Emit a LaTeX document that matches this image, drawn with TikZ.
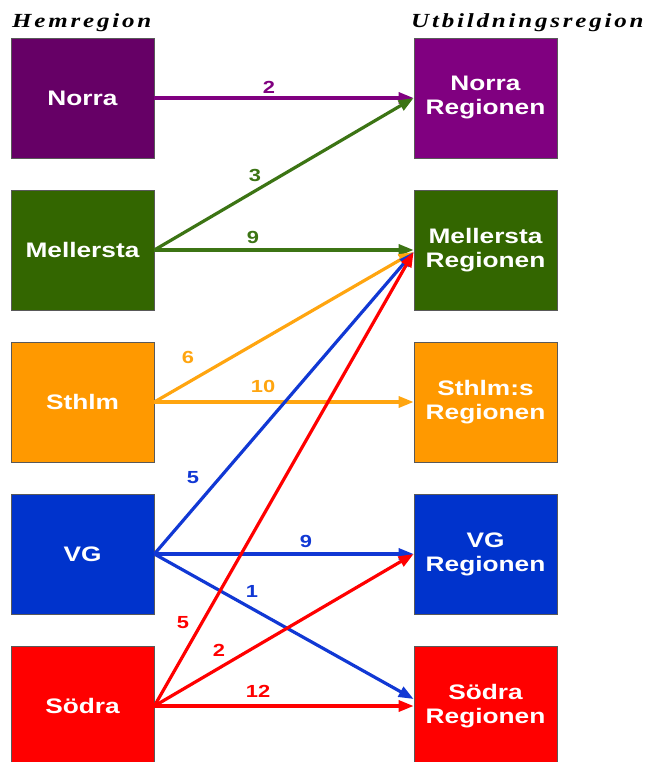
\documentclass[tikz,border=0pt]{standalone}
\usepackage{fontspec}
\setmainfont{Liberation Serif}
\newfontfamily\boxfont[FakeStretch=1.25]{Liberation Sans}
\newfontfamily\headfont[FakeStretch=1.25,LetterSpace=14]{Liberation Serif}
\usetikzlibrary{arrows.meta}
\colorlet{framecol}{black!65}
\definecolor{norrcol}{HTML}{660066}
\definecolor{norrcolb}{HTML}{800080}
\definecolor{mellcol}{HTML}{336600}
\definecolor{mellarr}{HTML}{3C7414}
\definecolor{sthlmcol}{HTML}{FF9900}
\definecolor{sthlmarr}{HTML}{FFA510}
\definecolor{vgcol}{HTML}{0033CC}
\definecolor{vgarr}{HTML}{1138D4}
\definecolor{sodcol}{HTML}{FF0000}
\tikzset{
  regbox/.style={draw=framecol, line width=0.7pt, minimum width=143pt,
    minimum height=120pt, inner sep=0pt, align=center, text=white,
    font=\boxfont\bfseries\fontsize{21}{24}\selectfont},
  flow/.style={line width=3.2pt, -{Triangle[length=15pt,width=11pt]}},
  numlab/.style={font=\boxfont\bfseries\fontsize{17.5}{20}\selectfont},
  headlab/.style={anchor=base west, inner sep=0pt,
    font=\headfont\bfseries\itshape\fontsize{20}{22}\selectfont}
}

\begin{document}
\begin{tikzpicture}[x=1pt, y=-1pt]

  % Page frame (pixel grid of the reference).
  \useasboundingbox (0,0) rectangle (646,762);

  % Column headings.
  \node[headlab] (hhead) at (12,28) {Hemregion};
  \node[headlab] (uhead) at (411,28) {Utbildningsregion};

  % Home regions (left).
  \node[regbox, fill=norrcol]  (hn) at (82.5,98)  {Norra};
  \node[regbox, fill=mellcol]  (hm) at (82.5,250) {Mellersta};
  \node[regbox, fill=sthlmcol] (hs) at (82.5,402) {Sthlm};
  \node[regbox, fill=vgcol]    (hv) at (82.5,554) {VG};
  \node[regbox, fill=sodcol]   (hd) at (82.5,706) {Södra};

  % Education regions (right).
  \node[regbox, fill=norrcolb] (un) at (485.5,98)  {Norra\\Regionen};
  \node[regbox, fill=mellcol]  (um) at (485.5,250) {Mellersta\\Regionen};
  \node[regbox, fill=sthlmcol] (us) at (485.5,402) {Sthlm:s\\Regionen};
  \node[regbox, fill=vgcol]    (uv) at (485.5,554) {VG\\Regionen};
  \node[regbox, fill=sodcol]   (ud) at (485.5,706) {Södra\\Regionen};

  % Flows from Norra and Mellersta.
  \draw[flow, norrcolb] (hn.east) -- (un.west);
  \draw[flow, mellarr] (hm.east) -- (un.west);
  \draw[flow, mellarr] (hm.east) -- (um.west);

  % Flows from Sthlm.
  \draw[flow, sthlmarr] (hs.east) -- ([yshift=-2pt]um.west);
  \draw[flow, sthlmarr] (hs.east) -- (us.west);

  % Flows from VG.
  \draw[flow, vgarr] (hv.east) -- ([yshift=-2pt]um.west);
  \draw[flow, vgarr] (hv.east) -- (uv.west);
  \draw[flow, vgarr] (hv.east) -- ([yshift=7pt]ud.west);

  % Flows from Södra.
  \draw[flow, sodcol] (hd.east) -- ([yshift=-2pt]um.west);
  \draw[flow, sodcol] (hd.east) -- (uv.west);
  \draw[flow, sodcol] (hd.east) -- (ud.west);

  % Counts on the arrows.
  \node[numlab, text=norrcolb] (c1)  at (269,87)  {2};
  \node[numlab, text=mellarr]  (c2)  at (255,175) {3};
  \node[numlab, text=mellarr]  (c3)  at (253,237) {9};
  \node[numlab, text=sthlmarr] (c4)  at (188,357) {6};
  \node[numlab, text=sthlmarr] (c5)  at (263,386) {10};
  \node[numlab, text=vgarr]    (c6)  at (193,478) {5};
  \node[numlab, text=vgarr]    (c7)  at (306,541) {9};
  \node[numlab, text=vgarr]    (c8)  at (252,591) {1};
  \node[numlab, text=sodcol]   (c9)  at (183,623) {5};
  \node[numlab, text=sodcol]   (c10) at (219,650) {2};
  \node[numlab, text=sodcol]   (c11) at (258,691) {12};

\end{tikzpicture}
\end{document}
